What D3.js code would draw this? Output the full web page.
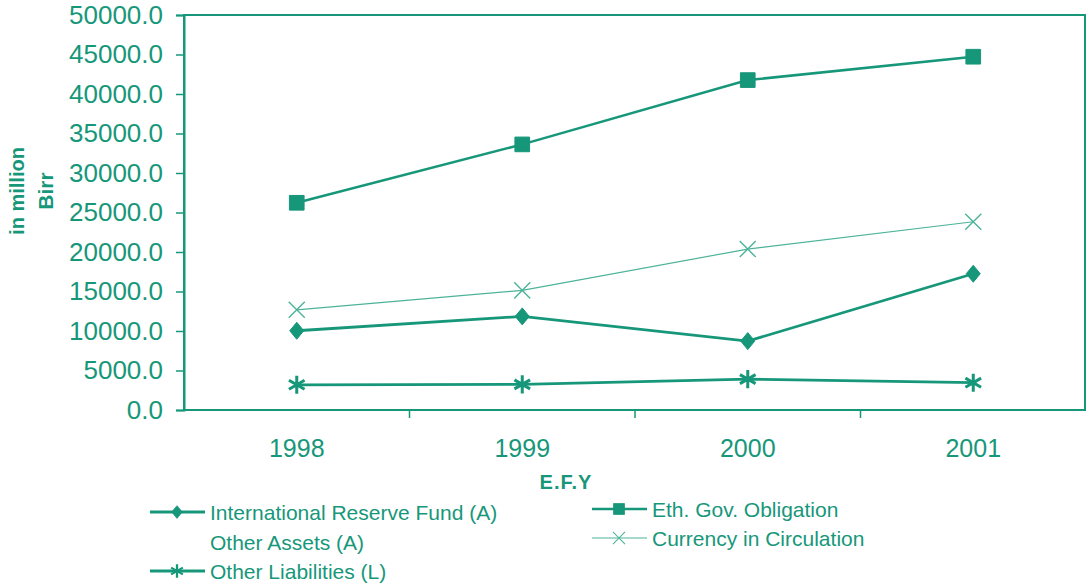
<!DOCTYPE html>
<html><head><meta charset="utf-8">
<script src="https://cdn.jsdelivr.net/npm/d3@7"></script>
<style>
html,body{margin:0;padding:0;background:#fff;}
svg{display:block;font-family:"Liberation Sans",Arial,sans-serif;}
</style></head>
<body><svg id="c" width="1086" height="585"></svg>
<script>
const years = ["1998","1999","2000","2001"];
const intlReserve = [10030, 11850, 8720, 17250];
const ethGovObligation = [26230, 33620, 41760, 44720];
const currencyCirc = [12680, 15140, 20370, 23830];
const otherLiabilities = [3190, 3240, 3910, 3460];
const yTicks = [0,5000,10000,15000,20000,25000,30000,35000,40000,45000,50000];

const C = "#17977a";
const CL = "#4cb399";
const svg = d3.select("#c");
const L=184, R=1085, T=15, B=410;
const x = d3.scaleBand().domain(years).range([L, R+1]);
const y = d3.scaleLinear().domain([0,50000]).range([B, T]);

// plot frame
svg.append("rect").attr("x",L).attr("y",T).attr("width",R-L).attr("height",B-T)
  .attr("fill","none").attr("stroke",C).attr("stroke-width",2);

// y axis
const ya = svg.append("g").attr("transform",`translate(${L},0)`)
  .call(d3.axisLeft(y).tickValues(yTicks).tickFormat(d3.format(".1f")).tickSize(8).tickPadding(13));
ya.select(".domain").attr("stroke",C).attr("stroke-width",2);
ya.selectAll(".tick line").attr("stroke",C).attr("stroke-width",1.5);
ya.selectAll(".tick text").attr("fill",C).attr("font-size",26).attr("font-family","Liberation Sans, Arial, sans-serif");

// x axis
const xa = svg.append("g").attr("transform",`translate(0,${B})`)
  .call(d3.axisBottom(x).tickSize(0).tickPadding(29));
xa.select(".domain").remove();
xa.selectAll(".tick text").attr("fill",C).attr("font-size",25).attr("font-family","Liberation Sans, Arial, sans-serif");
// category boundary ticks
svg.append("g").selectAll("line").data(years.slice(1)).join("line")
  .attr("x1",d=>x(d)).attr("x2",d=>x(d)).attr("y1",B).attr("y2",B+8)
  .attr("stroke",C).attr("stroke-width",1.5);

// axis titles
svg.append("text").attr("transform","translate(17,191) rotate(-90)")
  .attr("text-anchor","middle").attr("dominant-baseline","central")
  .attr("font-weight","bold").attr("font-size",20).attr("fill",C).text("in million");
svg.append("text").attr("transform","translate(45,191) rotate(-90)")
  .attr("text-anchor","middle").attr("dominant-baseline","central")
  .attr("font-weight","bold").attr("font-size",21).attr("fill",C).text("Birr");
svg.append("text").attr("x",566).attr("y",489).attr("text-anchor","middle")
  .attr("font-weight","bold").attr("font-size",20).attr("letter-spacing",1).attr("fill",C).text("E.F.Y");

// markers
const diamondPath = "M0,-8.5L7,0L0,8.5L-7,0Z";
const sym = {
  diamond: () => diamondPath,
  square: d3.symbol().type(d3.symbolSquare).size(215),
  star: d3.symbol().type(d3.symbolAsterisk).size(230),
  x: d3.symbol().type(d3.symbolX).size(170)
};
const series = [
  {name:"Eth. Gov. Obligation", vals:ethGovObligation, m:"square", w:2.5, c:C, fillM:true},
  {name:"Currency in Circulation", vals:currencyCirc, m:"x", w:1.2, c:CL, fillM:false},
  {name:"International Reserve Fund (A)", vals:intlReserve, m:"diamond", w:2.8, c:C, fillM:true},
  {name:"Other Liabilities (L)", vals:otherLiabilities, m:"star", w:2.8, c:C, fillM:false}
];
const line = d3.line().x((d,i)=>x(years[i])+x.bandwidth()/2).y(d=>y(d));
function drawMarker(g, s, cx, cy, scale){
  const p = g.append("path").attr("d", sym[s.m]()).attr("transform",`translate(${cx},${cy}) scale(${scale})`);
  if (s.fillM) p.attr("fill",s.c).attr("stroke",s.c).attr("stroke-width",1);
  else p.attr("fill","none").attr("stroke",s.c).attr("stroke-width", s.m==="star"?3:1.4);
}
series.forEach(s=>{
  svg.append("path").datum(s.vals).attr("d",line).attr("fill","none")
    .attr("stroke",s.c).attr("stroke-width",s.w);
  const g = svg.append("g");
  s.vals.forEach((v,i)=>drawMarker(g,s,x(years[i])+x.bandwidth()/2,y(v),1));
});

// legend
const legend = [
  {s:series[2], x:150, y:512},
  {s:null, name:"Other Assets (A)", x:150, y:542},
  {s:series[3], x:150, y:571},
  {s:series[0], x:592, y:509},
  {s:series[1], x:592, y:538}
];
legend.forEach(it=>{
  const g = svg.append("g");
  if (it.s){
    g.append("line").attr("x1",it.x).attr("x2",it.x+55).attr("y1",it.y).attr("y2",it.y)
      .attr("stroke",it.s.c).attr("stroke-width",it.s.w);
    drawMarker(g,it.s,it.x+27,it.y,0.75);
  }
  g.append("text").attr("x",it.x+60).attr("y",it.y).attr("dominant-baseline","central")
    .attr("font-size",21).attr("fill",C).text(it.s?it.s.name:it.name);
});
</script></body></html>
